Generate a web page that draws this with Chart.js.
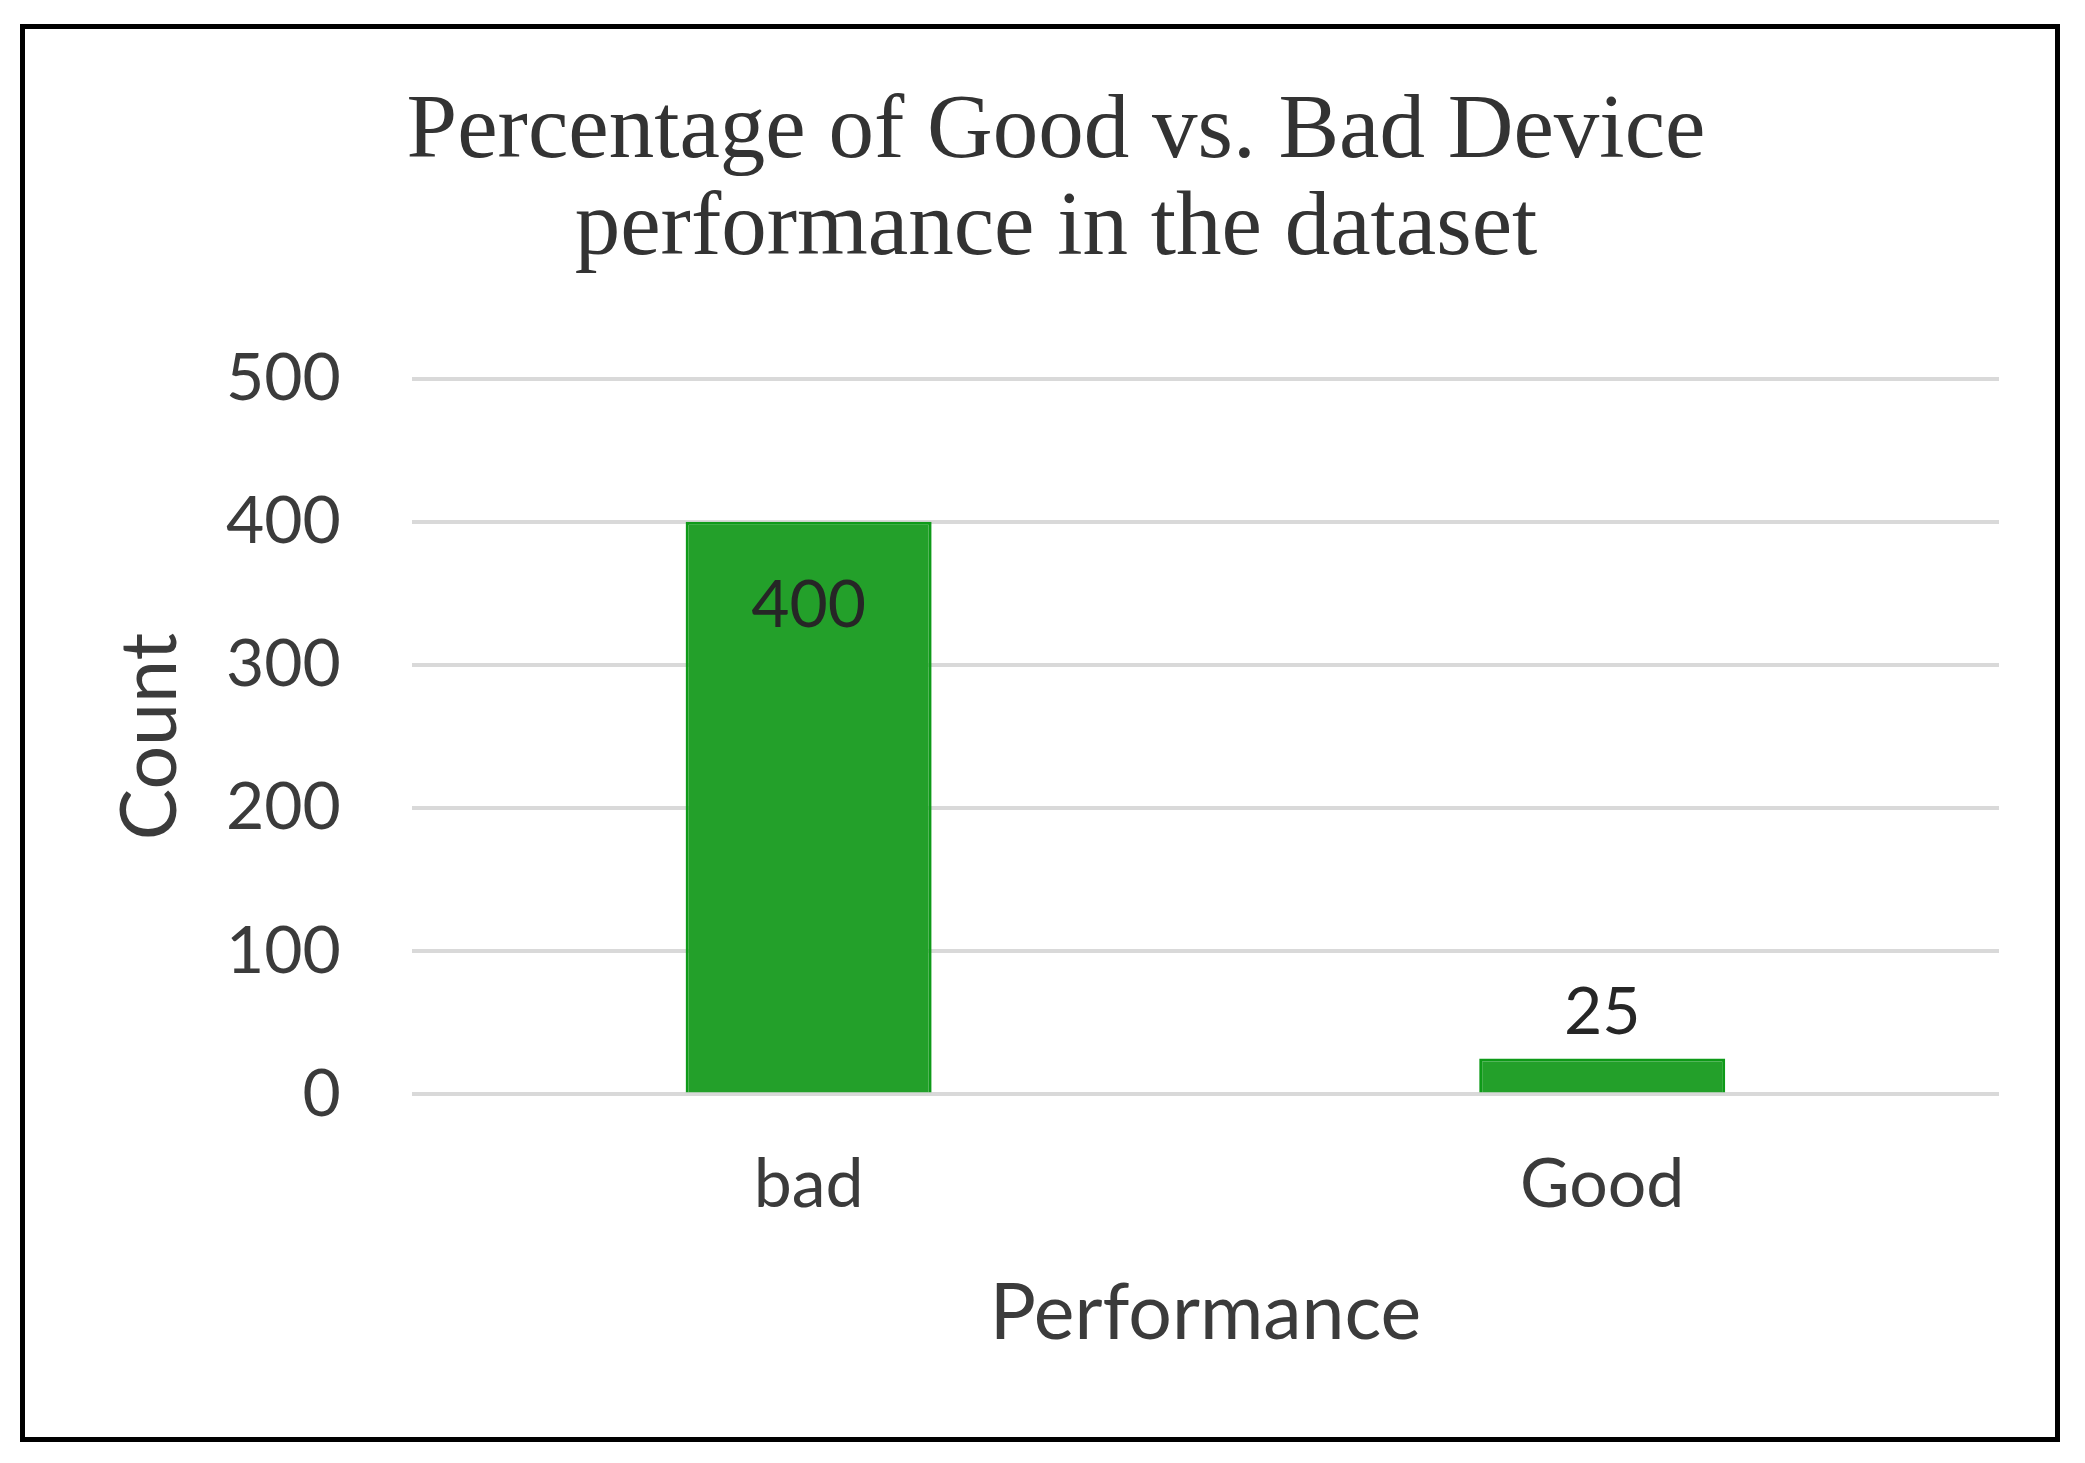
<!DOCTYPE html>
<html>
<head>
<meta charset="utf-8">
<title>Good vs Bad device performance</title>
<script src="https://cdn.jsdelivr.net/npm/chart.js@4.4.1/dist/chart.umd.min.js"></script>
<style>
  html, body { margin: 0; padding: 0; background: #fff; overflow: hidden; }
  #wrap { position: relative; width: 2085px; height: 1463px; }
  #frame {
    position: absolute; left: 20px; top: 24px; width: 2040px; height: 1418px;
    box-sizing: border-box; border: 5px solid #000; pointer-events: none;
  }
</style>
</head>
<body>
<div id="wrap">
  <canvas id="grafico"></canvas>
  <div id="frame"></div>
</div>
<script>
const categories = ['bad', 'Good'];
const counts = [400, 25];
const yTicks = [0, 100, 200, 300, 400, 500];

const textColor = '#3b3b3b';

// value labels: inside the tall bar, above the short one
const barLabels = {
    id: 'barLabels',
    afterDatasetsDraw(chart) {
        const ctx = chart.ctx;
        const meta = chart.getDatasetMeta(0);
        ctx.save();
        ctx.font = '66px Lato';
        ctx.fillStyle = '#262626';
        ctx.textAlign = 'center';
        ctx.textBaseline = 'middle';
        meta.data.forEach((bar, i) => {
            const value = chart.data.datasets[0].data[i];
            const h = bar.base - bar.y;
            const y = h > 150 ? bar.y + 84 : bar.y - 46;
            ctx.fillText(String(value), bar.x, y);
        });
        ctx.restore();
    }
};

document.addEventListener('DOMContentLoaded', function () {
    const canvas = document.getElementById('grafico');
    new Chart(canvas, {
        type: 'bar',
        data: {
            labels: categories,
            datasets: [{
                label: 'Count',
                data: counts,
                backgroundColor: '#23A02A',
                borderColor: '#0E9A18',
                borderWidth: 3,
                categoryPercentage: 1,
                barPercentage: 0.31
            }]
        },
        options: {
            responsive: true,
            maintainAspectRatio: false,
            animation: false,
            layout: { padding: { top: 0, left: 113, right: 86, bottom: 110 } },
            plugins: {
                legend: { display: false },
                tooltip: { enabled: false },
                title: {
                    display: true,
                    text: ['Percentage of Good vs. Bad Device', 'performance in the dataset'],
                    color: '#333333',
                    font: { family: '"Liberation Serif", "Times New Roman", serif', size: 91, weight: 'normal', lineHeight: 1.07 },
                    padding: { top: 84, bottom: 100 }
                }
            },
            scales: {
                x: {
                    grid: { display: false, drawTicks: false },
                    border: { display: false },
                    ticks: { color: textColor, font: { family: 'Lato', size: 68 }, padding: 50 },
                    title: {
                        display: true,
                        text: 'Performance',
                        color: textColor,
                        font: { family: 'Lato', size: 77, lineHeight: 1 },
                        padding: 0
                    }
                },
                y: {
                    min: yTicks[0],
                    max: yTicks[yTicks.length - 1],
                    afterBuildTicks: (scale) => { scale.ticks = yTicks.map(v => ({ value: v })); },
                    grid: { color: '#d9d9d9', lineWidth: 4, drawTicks: false },
                    border: { display: false },
                    ticks: { color: textColor, font: { family: 'Lato', size: 66 }, padding: 71 },
                    title: {
                        display: true,
                        text: 'Count',
                        color: textColor,
                        font: { family: 'Lato', size: 77, lineHeight: 1 },
                        padding: { top: 0, bottom: -35 }
                    }
                }
            }
        },
        plugins: [barLabels]
    });
});
</script>
</body>
</html>
